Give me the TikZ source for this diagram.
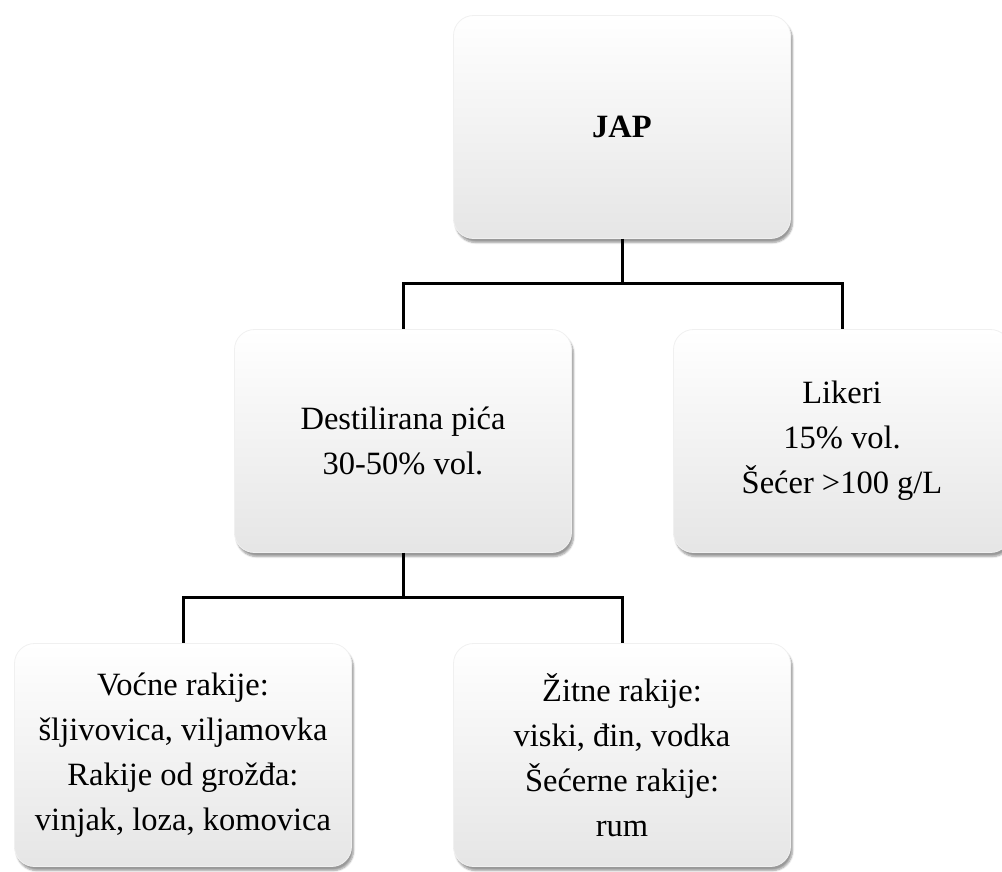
\documentclass[tikz,border=0pt]{standalone}
\usepackage{fontspec}
\setmainfont{Liberation Serif}
\usepackage{tikz}
\usetikzlibrary{
        positioning,
        shadows,
        shadows.blur
    }
\tikzset{
    box/.style={rounded corners=20pt,minimum width=337pt,minimum height=223pt,
        align=center,draw=gray!12,line width=0.8pt,
        top color=white,middle color=white,bottom color=gray!20,
        blur shadow={shadow xshift=2pt,shadow yshift=-4pt,shadow blur steps=6,shadow blur extra rounding=2pt}},
    bus/.style={to path={-- ++(0,45) -| (\tikztotarget)}},
    line/.style={line width=3pt}
}

\begin{document}
\begin{tikzpicture}[x=1pt,y=-1pt,on grid,font=\fontsize{32.5}{45}\selectfont]
    \useasboundingbox (0,0) rectangle (1002,871);
                \node[box] (jap) at (622,127) {\textbf{JAP}};
                \node[box] (dest) [below left=314pt and 219pt of jap] {Destilirana pića\\30-50\% vol.};
                \node[box] (lik) [below right=314pt and 220pt of jap] {Likeri\\15\% vol.\\Šećer >100 g/L};
                \node[box] (voc) [below left=314pt and 220pt of dest] {Voćne rakije:\\šljivovica, viljamovka\\Rakije od grožđa:\\vinjak, loza, komovica};
                \node[box] (zit) [below right=314pt and 219pt of dest] {Žitne rakije:\\viski, đin, vodka\\Šećerne rakije:\\rum};
            \path[line]
                    (jap.south)  edge[bus] (dest.north)
                    (jap.south)  edge[bus] (lik.north)
                    (dest.south)  edge[bus] (voc.north)
                    (dest.south)  edge[bus] (zit.north);
\end{tikzpicture}
\end{document}
